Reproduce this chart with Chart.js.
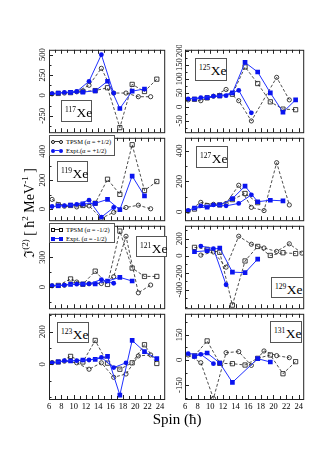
<!DOCTYPE html>
<html>
<head>
<meta charset="utf-8">
<title>J(2) Xe</title>
<script src="https://cdn.jsdelivr.net/npm/chart.js@4.4.1/dist/chart.umd.min.js"></script>
<style>
  html, body { margin: 0; padding: 0; background: #fff; }
  #fig { position: relative; width: 317px; height: 449px; overflow: hidden;
         font-family: "Liberation Serif", "DejaVu Serif", serif; color: #000; }
  .pane { position: absolute; }
  .nuc { position: absolute; z-index: 2; box-sizing: border-box; border: 1px solid #555;
         background: #fff; font-size: 13.5px; line-height: 1; padding: 5px 0 0 3px; white-space: nowrap; }
  .nuc sup { font-size: 7.5px; vertical-align: 0; position: relative; top: -5px; margin-right: 0.5px; }
  .leg { position: absolute; z-index: 2; box-sizing: border-box; border: 1px solid #555;
         background: #fff; font-size: 6.5px; padding: 1px 0 0 1px; }
  .leg .row { display: flex; align-items: center; height: 9px; white-space: nowrap; }
  .smp { display: inline-flex; align-items: center; width: 12px; margin-right: 3px; flex: none; }
  .smp i { flex: none; box-sizing: border-box; width: 4px; height: 4px; }
  .smp i.o  { border: 0.8px solid #111; border-radius: 50%; }
  .smp i.s  { border: 0.8px solid #111; }
  .smp i.fo { background: #0a14f0; border-radius: 50%; }
  .smp i.fs { background: #0a14f0; }
  .smp b { flex: 1; height: 0; border-top: 1px dashed #333; }
  .smp b.solid { border-top: 1px solid #2030ff; }
  #ytitle { position: absolute; left: 28px; top: 213px; transform: translate(-50%, -50%) rotate(-90deg);
            font-size: 14px; white-space: nowrap; z-index: 2; }
  #ytitle sup { font-size: 9px; }
  #xtitle { position: absolute; left: 177px; top: 419px; transform: translate(-50%, -50%);
            font-size: 15px; white-space: nowrap; }
</style>
</head>
<body>
<div id="fig">
  <div class="nuc" style="left:61px;top:100px;width:31px;height:22px"><sup>117</sup>Xe</div>
  <div class="nuc" style="left:195px;top:58px;width:32px;height:23px"><sup>125</sup>Xe</div>
  <div class="nuc" style="left:57px;top:161px;width:31px;height:21px"><sup>119</sup>Xe</div>
  <div class="nuc" style="left:196px;top:146px;width:32px;height:22px"><sup>127</sup>Xe</div>
  <div class="nuc" style="left:136px;top:236px;width:31px;height:21px"><sup>121</sup>Xe</div>
  <div class="nuc" style="left:271px;top:277px;width:33px;height:21px"><sup>129</sup>Xe</div>
  <div class="nuc" style="left:57px;top:322px;width:32px;height:21px"><sup>123</sup>Xe</div>
  <div class="nuc" style="left:270px;top:321px;width:32px;height:22px"><sup>131</sup>Xe</div>

  <div class="leg" style="left:49px;top:135px;width:66px;height:21px">
    <div class="row"><span class="smp"><i class="o"></i><b></b><i class="o"></i></span>TPSM (α = +1/2)</div>
    <div class="row"><span class="smp"><i class="fo"></i><b class="solid"></b><i class="fo"></i></span>Expt.(α = +1/2)</div>
  </div>
  <div class="leg" style="left:49px;top:223px;width:66px;height:20px">
    <div class="row"><span class="smp"><i class="s"></i><b></b><i class="s"></i></span>TPSM (α = -1/2)</div>
    <div class="row"><span class="smp"><i class="fs"></i><b class="solid"></b><i class="fs"></i></span>Expt. (α = -1/2)</div>
  </div>

  <div id="ytitle">ℑ<sup>(2)</sup> [ ħ<sup>2</sup> MeV<sup>-1</sup> ]</div>
  <div id="xtitle">Spin (ħ)</div>
</div>

<script>
// Спины по сигнатурам
const SPIN_A = [6.5, 8.5, 10.5, 12.5, 14.5, 16.5, 18.5, 20.5, 22.5, 24.5]; // α = +1/2
const SPIN_B = [7.5, 9.5, 11.5, 13.5, 15.5, 17.5, 19.5, 21.5, 23.5];       // α = -1/2
const X_TICKS = [6, 8, 10, 12, 14, 16, 18, 20, 22, 24];

// 117Xe
const XE117_EXP_A = [23, 38, 49, 174, 500, 30, null, null, null, null];
const XE117_EXP_B = [30, 38, 42, 57, 174, -159, 53, 80, null];
const XE117_TH_A  = [20, 30, 45, 125, 333, 30, 30, -15, -15, null];
const XE117_TH_B  = [25, 35, 50, 60, 95, -394, 136, 49, 200];
const XE117_Y_TICKS = [-250, 0, 250, 500];

// 125Xe
const XE125_EXP_A = [28, 33, 38, 40, 59, -21, null, null, null, null];
const XE125_EXP_B = [28, 33, 39, 50, 158, 124, 50, -19, 25];
const XE125_TH_A  = [25, 22, 38, 62, 22, -50, null, 105, 25, null];
const XE125_TH_B  = [27, 32, 40, 45, 142, 83, 18, -8, -10];
const XE125_Y_TICKS = [-50, 0, 50, 100, 150, 200];

// 119Xe
const XE119_EXP_A = [18, 24, 33, 62, -56, 11, null, null, null, null];
const XE119_EXP_B = [22, 27, 36, 40, 67, -4, 229, 91, null];
const XE119_TH_A  = [67, 20, 15, 22, -64, -22, 11, 27, 2, null];
const XE119_TH_B  = [30, 25, 25, 40, 207, 102, 446, 129, 191];
const XE119_Y_TICKS = [0, 200, 400];

// 127Xe
const XE127_EXP_A = [10, 39, 45, 39, 55, 111, null, null, null, null];
const XE127_EXP_B = [25, 31, 45, 86, 168, 66, 76, 72, null];
const XE127_TH_A  = [4, 62, 49, 55, 174, 29, 8, 322, 45, null];
const XE127_TH_B  = [18, 40, 45, 80, 120, 60, null, null, null];
const XE127_Y_TICKS = [0, 200, 400];

// 121Xe
const XE121_EXP_A = [15, 22, 31, 34, 77, 40, null, null, null, null];
const XE121_EXP_B = [15, 28, 31, 34, 62, 99, 62, null, null];
const XE121_TH_A  = [15, 20, 52, 35, 37, 105, 510, -56, 22, null];
const XE121_TH_B  = [18, 83, 30, 161, 28, 562, 192, 108, 108];
const XE121_Y_TICKS = [0, 300];

// 129Xe
const XE129_EXP_A = [null, 113, 84, -342, null, null, null, null, null, null];
const XE129_EXP_B = [47, 58, 91, -193, -200, -40, null, null, null];
const XE129_TH_A  = [null, 7, 44, -135, 229, 135, 91, 50, 140, 30];
const XE129_TH_B  = [98, 75, 40, -582, -62, 109, 3, 35, 25];
const XE129_Y_TICKS = [-400, -200, 0, 200];

// 123Xe
const XE123_EXP_A = [10, 23, 23, 27, 43, -19, 10, null, null, null];
const XE123_EXP_B = [16, 21, 27, 31, 49, -186, 146, 78, 35];
const XE123_TH_A  = [12, 20, 10, -29, 10, -78, -58, 52, 58, null];
const XE123_TH_B  = [15, 49, 15, 146, 8, -29, 10, 120, 6];
const XE123_Y_TICKS = [0, 200];

// 131Xe
const XE131_EXP_A = [38, 34, -22, null, null, null, null, null, null, null];
const XE131_EXP_B = [22, 42, -18, -134, null, 8, -12, null, null];
const XE131_TH_A  = [30, -16, -230, 44, 50, -32, 54, 26, 14, null];
const XE131_TH_B  = [25, 114, -20, -22, -30, 10, 30, -82, -10];
const XE131_Y_TICKS = [-150, 0, 150];

// Панели
const PANELS = [
  { col: 0, row: 0, expA: XE117_EXP_A, expB: XE117_EXP_B, thA: XE117_TH_A, thB: XE117_TH_B, yTicks: XE117_Y_TICKS, yMin: -450, yMax: 560, minor: 125 },
  { col: 1, row: 0, expA: XE125_EXP_A, expB: XE125_EXP_B, thA: XE125_TH_A, thB: XE125_TH_B, yTicks: XE125_Y_TICKS, yMin: -90,  yMax: 203, minor: 25 },
  { col: 0, row: 1, expA: XE119_EXP_A, expB: XE119_EXP_B, thA: XE119_TH_A, thB: XE119_TH_B, yTicks: XE119_Y_TICKS, yMin: -77,  yMax: 494, minor: 100 },
  { col: 1, row: 1, expA: XE127_EXP_A, expB: XE127_EXP_B, thA: XE127_TH_A, thB: XE127_TH_B, yTicks: XE127_Y_TICKS, yMin: -55,  yMax: 485, minor: 100 },
  { col: 0, row: 2, expA: XE121_EXP_A, expB: XE121_EXP_B, thA: XE121_TH_A, thB: XE121_TH_B, yTicks: XE121_Y_TICKS, yMin: -210, yMax: 615, minor: 150 },
  { col: 1, row: 2, expA: XE129_EXP_A, expB: XE129_EXP_B, thA: XE129_TH_A, thB: XE129_TH_B, yTicks: XE129_Y_TICKS, yMin: -618, yMax: 352, minor: 100 },
  { col: 0, row: 3, expA: XE123_EXP_A, expB: XE123_EXP_B, thA: XE123_TH_A, thB: XE123_TH_B, yTicks: XE123_Y_TICKS, yMin: -210, yMax: 308, minor: 100 },
  { col: 1, row: 3, expA: XE131_EXP_A, expB: XE131_EXP_B, thA: XE131_TH_A, thB: XE131_TH_B, yTicks: XE131_Y_TICKS, yMin: -233, yMax: 276, minor: 75 },
];

// Геометрия
const COL_L = [49, 185];
const COL_R = [167, 306];
const LABEL_GAP = [6, 5];
const ROW_T = [47, 135, 223, 311];
const ROW_H = 88;
const Y_AXIS_W = 24;
const X_AXIS_H = 20;
const X_MAX = 24.7;
const FONT = "'Liberation Serif', 'DejaVu Serif', serif";
const TICK_SIZE = 8.5;

const BLUE = '#0a14f0';
const BLUE_LINE = '#2030ff';

const measureCtx = document.createElement('canvas').getContext('2d');
measureCtx.font = `${TICK_SIZE}px ${FONT}`;
const labelWidth = v => measureCtx.measureText(String(v)).width;

function pts(spins, vals) {
  return spins
    .map((s, i) => ({ x: s, y: vals[i] }))
    .filter(p => p.y !== null && p.y !== undefined);
}

function theory(data, style) {
  return {
    data, order: 2,
    borderColor: '#3a3a3a', borderWidth: 0.9, borderDash: [3, 2],
    pointStyle: style, pointRadius: style === 'rect' ? 3 : 2.1,
    pointBorderColor: '#111', pointBorderWidth: 0.8,
    pointBackgroundColor: 'rgba(0,0,0,0)',
  };
}

function expt(data, style) {
  return {
    data, order: 1,
    borderColor: BLUE_LINE, borderWidth: 1,
    pointStyle: style, pointRadius: style === 'rect' ? 3.3 : 2.4,
    pointBorderWidth: 0, pointBackgroundColor: BLUE,
  };
}

// Рамка и внутренние штрихи
const frameTicks = {
  id: 'frameTicks',
  afterDatasetsDraw(chart, args, opts) {
    const { ctx, chartArea: a, scales: { x, y } } = chart;
    ctx.save();
    ctx.strokeStyle = '#222';
    ctx.lineWidth = 1;
    ctx.beginPath();
    for (let s = 6; s <= 24; s++) {
      const px = Math.round(x.getPixelForValue(s)) + 0.5;
      const len = s % 2 === 0 ? 4 : 3;
      ctx.moveTo(px, a.bottom); ctx.lineTo(px, a.bottom - len);
      ctx.moveTo(px, a.top);    ctx.lineTo(px, a.top + len);
    }
    for (let v = Math.ceil(y.min / opts.minor) * opts.minor; v <= y.max; v += opts.minor) {
      const py = Math.round(y.getPixelForValue(v)) + 0.5;
      const len = opts.major.includes(v) ? 4 : 2.5;
      ctx.moveTo(a.left, py); ctx.lineTo(a.left + len, py);
    }
    ctx.stroke();
    ctx.strokeRect(a.left + 0.5, a.top + 0.5, a.right - a.left, a.bottom - a.top);
    ctx.restore();
  },
};

const fig = document.getElementById('fig');

PANELS.forEach(p => {
  const bottom = p.row === 3;
  const x0 = COL_L[p.col] - Y_AXIS_W;
  const y0 = ROW_T[p.row] - 2;
  const w = COL_R[p.col] - x0 + 2;
  const h = ROW_H + 2 + (bottom ? X_AXIS_H : 2);

  const pane = document.createElement('div');
  pane.className = 'pane';
  pane.style.cssText = `left:${x0}px;top:${y0}px;width:${w}px;height:${h}px`;
  const cv = document.createElement('canvas');
  cv.width = w; cv.height = h;
  cv.style.width = w + 'px'; cv.style.height = h + 'px';
  pane.appendChild(cv);
  fig.insertBefore(pane, fig.firstChild);

  const widest = Math.max(...p.yTicks.map(labelWidth));
  const yPad = LABEL_GAP[p.col] - widest / 2;

  new Chart(cv, {
    type: 'line',
    data: {
      datasets: [
        expt(pts(SPIN_A, p.expA), 'circle'),
        expt(pts(SPIN_B, p.expB), 'rect'),
        theory(pts(SPIN_A, p.thA), 'circle'),
        theory(pts(SPIN_B, p.thB), 'rect'),
      ],
    },
    options: {
      responsive: false,
      animation: false,
      events: [],
      layout: { padding: { left: 0, top: 2, right: 2, bottom: bottom ? 0 : 2 } },
      plugins: {
        legend: { display: false },
        tooltip: { enabled: false },
        frameTicks: { minor: p.minor, major: p.yTicks },
      },
      scales: {
        x: {
          type: 'linear', min: 6, max: X_MAX, display: bottom,
          afterBuildTicks: s => { s.ticks = X_TICKS.map(v => ({ value: v })); },
          afterFit: s => {
            if (bottom) s.height = X_AXIS_H;
            s.paddingLeft = 0; s.paddingRight = 0;
          },
          grid: { display: false, drawTicks: false },
          border: { display: false },
          ticks: { maxRotation: 0, autoSkip: false, padding: 3, color: '#000',
                   font: { family: FONT, size: TICK_SIZE } },
        },
        y: {
          type: 'linear', min: p.yMin, max: p.yMax,
          afterBuildTicks: s => { s.ticks = p.yTicks.map(v => ({ value: v })); },
          afterFit: s => {
            s.width = Y_AXIS_W;
            s.paddingTop = 0; s.paddingBottom = 0;
          },
          grid: { display: false, drawTicks: false },
          border: { display: false },
          ticks: { minRotation: 90, maxRotation: 90, crossAlign: 'center', padding: yPad,
                   autoSkip: false, color: '#000', font: { family: FONT, size: TICK_SIZE } },
        },
      },
    },
    plugins: [frameTicks],
  });
});
</script>
</body>
</html>
